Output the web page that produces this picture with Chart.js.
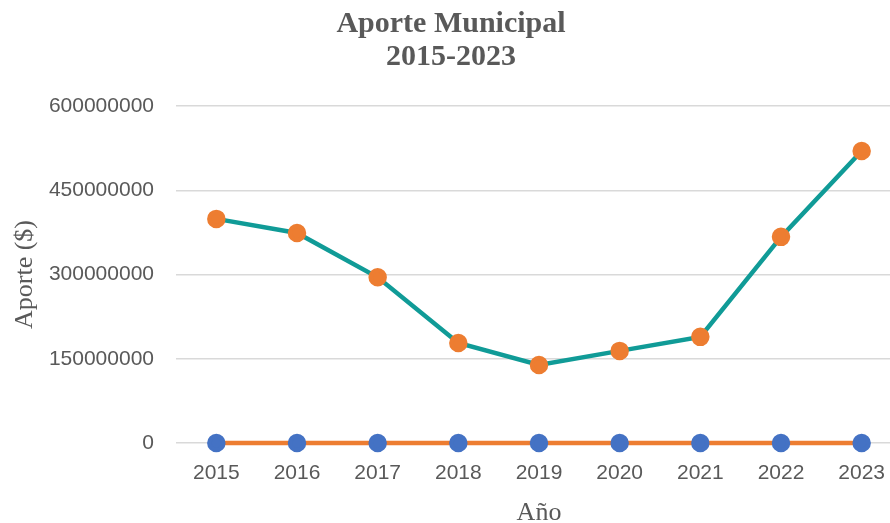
<!DOCTYPE html>
<html>
<head>
<meta charset="utf-8">
<script src="https://cdn.jsdelivr.net/npm/chart.js@4.4.1/dist/chart.umd.min.js"></script>
<style>
  html, body { margin: 0; padding: 0; background: #ffffff; overflow: hidden; }
  #wrap { width: 902px; height: 523px; }
</style>
</head>
<body>
<div id="wrap"><canvas id="chart" width="902" height="523"></canvas></div>
<script>
// datos
const years = ['2015', '2016', '2017', '2018', '2019', '2020', '2021', '2022', '2023'];
const aporteMunicipal = [399000000, 374000000, 295000000, 178000000, 139000000, 164000000, 189000000, 367000000, 520000000];
const serieCero = [0, 0, 0, 0, 0, 0, 0, 0, 0];
const yTicks = [0, 150000000, 300000000, 450000000, 600000000];

const grey = '#595959';
const gridColor = '#d9d9d9';

const ctx = document.getElementById('chart').getContext('2d');

new Chart(ctx, {
    type: 'line',
    data: {
        labels: years,
        datasets: [
            {
                label: 'Aporte',
                data: aporteMunicipal,
                borderColor: '#109b97',
                borderWidth: 4.5,
                pointBackgroundColor: '#ed7d31',
                pointBorderColor: '#ed7d31',
                pointRadius: 7,
                tension: 0,
                clip: false
            },
            {
                label: 'Serie 2',
                data: serieCero,
                borderColor: '#ed7d31',
                borderWidth: 4.5,
                pointBackgroundColor: '#4472c4',
                pointBorderColor: '#4472c4',
                pointRadius: 7,
                tension: 0,
                clip: false
            }
        ]
    },
    options: {
        responsive: false,
        animation: false,
        // sin relleno automático: el área del gráfico llega al borde derecho
        layout: { padding: 0, autoPadding: false },
        plugins: {
            legend: { display: false },
            tooltip: { enabled: false },
            title: {
                display: true,
                text: ['Aporte Municipal', '2015-2023'],
                color: grey,
                font: { family: 'Liberation Serif', size: 30, weight: 'bold', lineHeight: 1.1 },
                padding: { top: 7.5, bottom: 32.5 }
            }
        },
        scales: {
            x: {
                offset: true,
                grid: { display: false, drawTicks: false },
                border: { display: false },
                ticks: {
                    color: grey,
                    padding: 18,
                    font: { family: 'Liberation Sans', size: 21 }
                },
                title: {
                    display: true,
                    text: 'Año',
                    color: grey,
                    font: { family: 'Liberation Serif', size: 26, lineHeight: 1 },
                    padding: { top: 0, bottom: -3 }
                },
                afterFit: (scale) => {
                    scale.height = 80;
                    scale.paddingLeft = 0;
                    scale.paddingRight = 0;
                }
            },
            y: {
                min: 0,
                max: 600000000,
                afterBuildTicks: (scale) => { scale.ticks = yTicks.map(v => ({ value: v })); },
                grid: { color: gridColor, lineWidth: 1.5, drawTicks: false },
                border: { display: false },
                ticks: {
                    color: grey,
                    padding: 22,
                    font: { family: 'Liberation Sans', size: 21 },
                    callback: (v) => String(v)
                },
                title: {
                    display: true,
                    text: 'Aporte ($)',
                    color: grey,
                    font: { family: 'Liberation Serif', size: 26, lineHeight: 1 },
                    padding: { top: 12, bottom: 0 }
                },
                afterFit: (scale) => { scale.width = 176; }
            }
        }
    }
});
</script>
</body>
</html>
